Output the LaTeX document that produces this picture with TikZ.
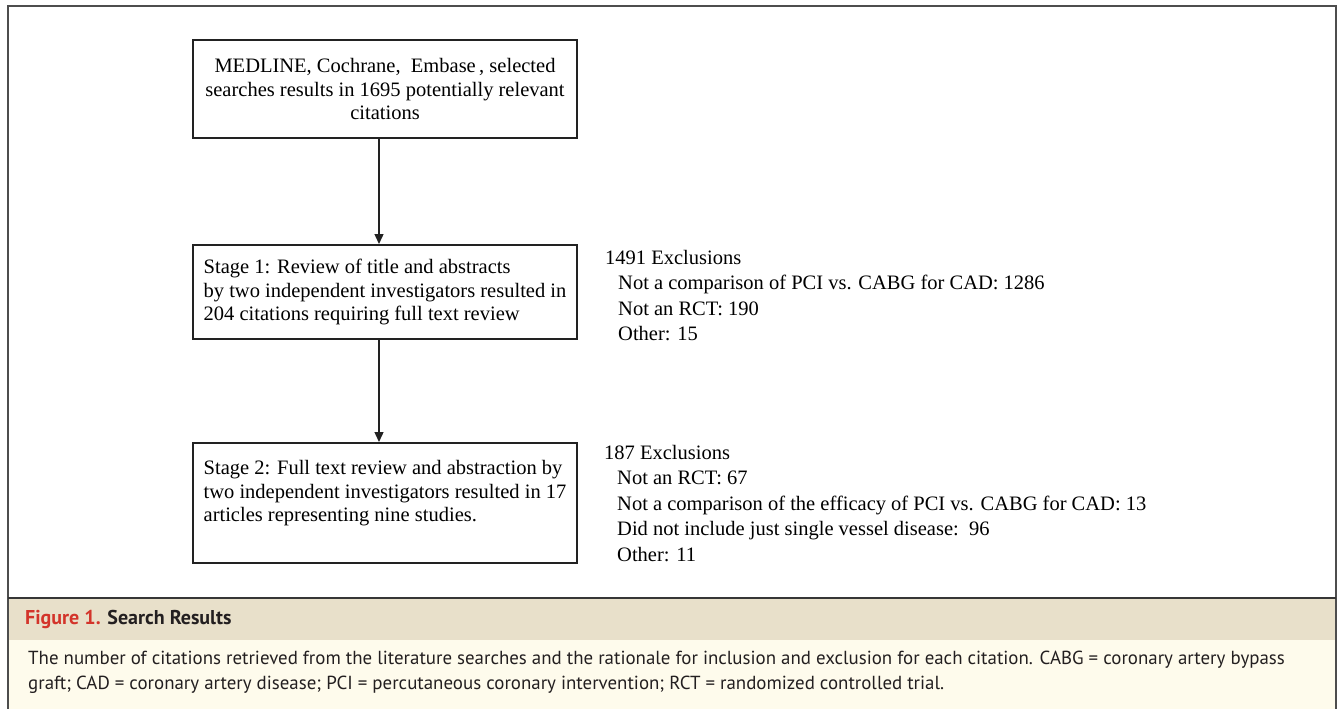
\documentclass[tikz,border=0pt]{standalone}
\usepackage{fontspec}
\setmainfont{Liberation Serif}
\newfontfamily\capfont{PT Sans}
\usetikzlibrary{arrows.meta}
\definecolor{framegray}{HTML}{4D4D4D}
\definecolor{tanband}{HTML}{E8E0CA}
\definecolor{creamband}{HTML}{FEFBEC}
\definecolor{figred}{HTML}{D3342A}
\definecolor{capdark}{HTML}{231F20}
\definecolor{boxline}{HTML}{222222}
\tikzset{
  flowbox/.style={draw=boxline, line width=2pt, fill=white, inner sep=0pt,
    font=\fontsize{20.5}{23.5}\selectfont},
  exclnote/.style={anchor=north west, inner sep=0pt, align=left,
    font=\fontsize{20.5}{25.5}\selectfont},
  flowarrow/.style={draw=boxline, line width=1.4pt, -{Triangle[length=10pt,width=9pt]}},
  captitle/.style={anchor=west, inner sep=0pt, font=\capfont\bfseries\fontsize{20}{24}\selectfont},
  capbody/.style={anchor=north west, inner sep=0pt, align=left, text=capdark,
    font=\capfont\fontsize{18.9}{25}\selectfont}
}
\begin{document}
\begin{tikzpicture}[x=1pt,y=-1pt]
\useasboundingbox (0,0) rectangle (1341,709);
% caption bands
\fill[tanband] (8,598) rectangle (1336,640);
\fill[creamband] (8,640) rectangle (1336,709);
% outer frame
\draw[framegray, line width=1.5pt] (8,709) -- (8,6) -- (1336,6) -- (1336,709);
\draw[framegray!70!black, line width=1.5pt] (8,598) -- (1336,598);
% flow boxes
\node[flowbox, minimum width=384pt, minimum height=98pt, align=center] (src) at (385,89)
  {MEDLINE, Cochrane,\ \ Embase\,, selected\\searches results in 1695 potentially relevant\\citations};
\node[flowbox, minimum width=384pt, minimum height=94pt, align=left] (s1) at (385,292)
  {Stage 1: Review of title and abstracts\\by two independent investigators resulted in\\204 citations requiring full text review};
\node[flowbox, minimum width=384pt, minimum height=120pt, align=left] (s2) at (385,503)
  {Stage 2: Full text review and abstraction by\\two independent investigators resulted in 17\\articles representing nine studies.\\\mbox{}};
% arrows
\draw[flowarrow] ([xshift=-6pt]src.south) -- ([xshift=-6pt]s1.north);
\draw[flowarrow] ([xshift=-6pt]s1.south) -- ([xshift=-6pt]s2.north);
% exclusions
\node[exclnote] (ex1) at (605,250)
  {1491 Exclusions\\
   \hspace*{13pt}Not a comparison of PCI vs. CABG for CAD: 1286\\
   \hspace*{13pt}Not an RCT: 190\\
   \hspace*{13pt}Other: 15};
\node[exclnote] (ex2) at (604,445)
  {187 Exclusions\\
   \hspace*{13pt}Not an RCT: 67\\
   \hspace*{13pt}Not a comparison of the efficacy of PCI vs. CABG for CAD: 13\\
   \hspace*{13pt}Did not include just single vessel disease:\ \ 96\\
   \hspace*{13pt}Other: 11};
% caption
\node[captitle] (capt) at (25,619) {\textcolor{figred}{Figure 1.} \textcolor{capdark}{Search Results}};
\node[capbody] (capb) at (28,651)
  {The number of citations retrieved from the literature searches and the rationale for inclusion and exclusion for each citation. CABG = coronary artery bypass\\
   graft; CAD = coronary artery disease; PCI = percutaneous coronary intervention; RCT = randomized controlled trial.};
\end{tikzpicture}
\end{document}
